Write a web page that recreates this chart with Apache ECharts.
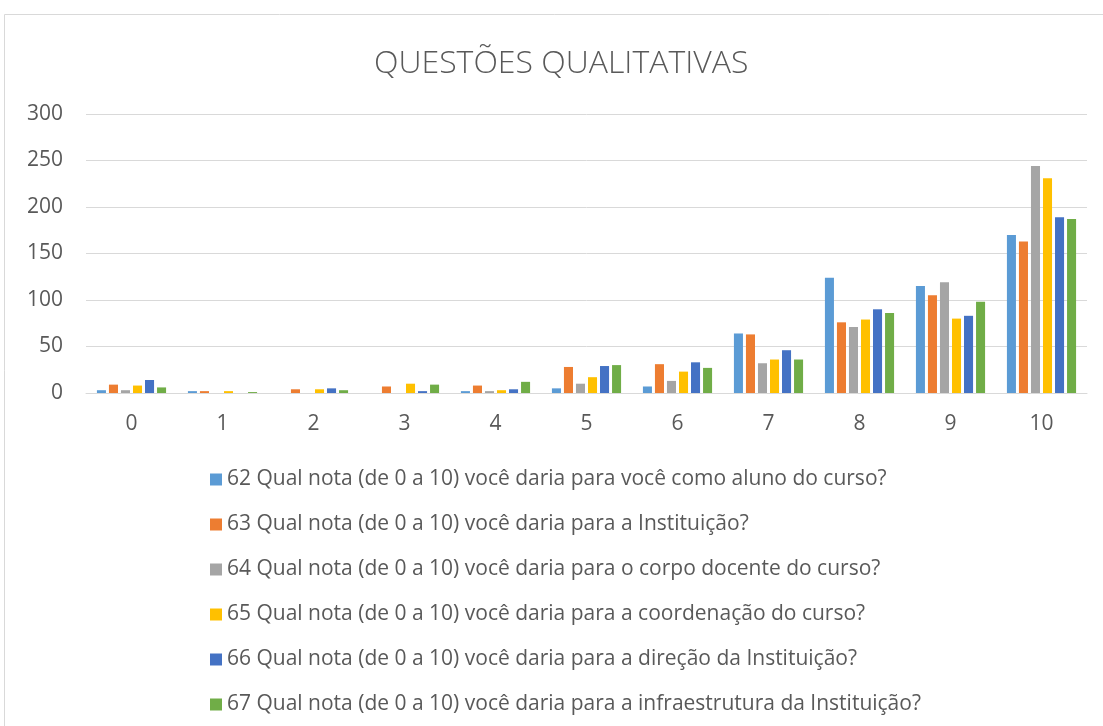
<!DOCTYPE html>
<html>
<head>
<meta charset="utf-8">
<script src="https://cdn.jsdelivr.net/npm/echarts@6/dist/echarts.min.js"></script>
<style>
html,body{margin:0;padding:0;background:#fff;}
#c{width:1103px;height:726px;}
</style>
</head>
<body>
<div id="c"></div>
<script>
const categories = ['0','1','2','3','4','5','6','7','8','9','10'];
const seriesNames = [
  '62 Qual nota (de 0 a 10) você daria para você como aluno do curso?',
  '63 Qual nota (de 0 a 10) você daria para a Instituição?',
  '64 Qual nota (de 0 a 10) você daria para o corpo docente do curso?',
  '65 Qual nota (de 0 a 10) você daria para a coordenação do curso?',
  '66 Qual nota (de 0 a 10) você daria para a direção da Instituição?',
  '67 Qual nota (de 0 a 10) você daria para a infraestrutura da Instituição?'
];
const q62 = [3, 2, 0, 0, 2, 5, 7, 64, 124, 115, 170];
const q63 = [9, 2, 4, 7, 8, 28, 31, 63, 76, 105, 163];
const q64 = [3, 0, 0, 0, 2, 10, 13, 32, 71, 119, 244];
const q65 = [8, 2, 4, 10, 3, 17, 23, 36, 79, 80, 231];
const q66 = [14, 0, 5, 2, 4, 29, 33, 46, 90, 83, 189];
const q67 = [6, 1, 3, 9, 12, 30, 27, 36, 86, 98, 187];
const colors = ['#5B9BD5','#ED7D31','#A5A5A5','#FFC000','#4472C4','#70AD47'];
const allData = [q62,q63,q64,q65,q66,q67];
const yTicks = {min:0, max:300, interval:50};

const chart = echarts.init(document.getElementById('c'), null, {renderer:'canvas'});
const font = '"Open Sans", "Liberation Sans", sans-serif';
chart.setOption({
  animation:false,
  color: colors,
  textStyle:{fontFamily:font},
  graphic:[{
    type:'rect', silent:true,
    shape:{x:4.5, y:14.5, width:1110, height:730},
    style:{fill:'none', stroke:'#d9d9d9', lineWidth:1}
  }],
  title:{
    text:'QUESTÕES QUALITATIVAS',
    left:369, top:43,
    textStyle:{fontFamily:font, fontWeight:300, fontSize:32, color:'#595959'}
  },
  grid:{left:86, right:16, top:114, bottom:333, containLabel:false},
  xAxis:{
    type:'category', data:categories,
    axisLine:{lineStyle:{color:'#d9d9d9', width:1}},
    axisTick:{show:false},
    axisLabel:{color:'#595959', fontSize:21, margin:21, fontFamily:font}
  },
  yAxis:{
    type:'value', min:yTicks.min, max:yTicks.max, interval:yTicks.interval,
    axisLine:{show:false}, axisTick:{show:false},
    axisLabel:{color:'#595959', fontSize:21, margin:23, fontFamily:font},
    splitLine:{lineStyle:{color:'#d9d9d9', width:1}}
  },
  legend:{
    orient:'vertical', left:205, top:464,
    itemWidth:12, itemHeight:12, itemGap:24,
    icon:'rect',
    textStyle:{color:'#595959', fontSize:21, fontFamily:font}
  },
  series: allData.map((d,i)=>({
    name: seriesNames[i], type:'bar', data:d,
    barGap:'33%', barCategoryGap:'24%',
    itemStyle:{color:colors[i]}
  }))
});
</script>
</body>
</html>
